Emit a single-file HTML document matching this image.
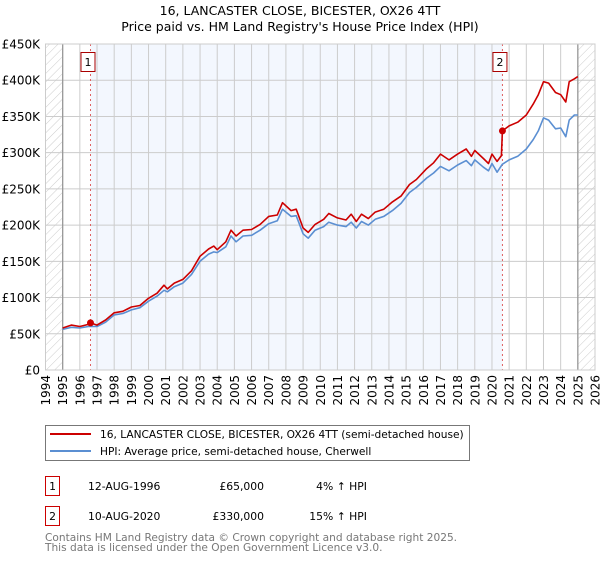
<!DOCTYPE html>
<html><head><meta charset="utf-8"><style>
body{margin:0;background:#fff;width:600px;height:560px;overflow:hidden;font-family:"DejaVu Sans","Liberation Sans",sans-serif}
svg text{font-family:"DejaVu Sans","Liberation Sans",sans-serif}
</style></head><body>
<svg id="chart" width="600" height="560" viewBox="0 0 600 560">
<defs>
<pattern id="hatch" width="6" height="6" patternUnits="userSpaceOnUse" patternTransform="rotate(45)">
<line x1="0" y1="0" x2="0" y2="6" stroke="#ccc" stroke-width="1"/></pattern>
</defs>
<text x="300" y="15" text-anchor="middle" font-size="12.5" fill="#000">16, LANCASTER CLOSE, BICESTER, OX26 4TT</text>
<text x="300" y="31" text-anchor="middle" font-size="12.5" fill="#000">Price paid vs. HM Land Registry's House Price Index (HPI)</text>
<g id="plot"></g>
<g id="legend">
<rect x="45.5" y="425.5" width="424" height="35" fill="#fff" stroke="#777"/>
<line x1="50" y1="434" x2="91" y2="434" stroke="#cc0000" stroke-width="2"/>
<text x="100" y="438" font-size="10.6">16, LANCASTER CLOSE, BICESTER, OX26 4TT (semi-detached house)</text>
<line x1="50" y1="451" x2="91" y2="451" stroke="#5b8fd2" stroke-width="2"/>
<text x="100" y="455" font-size="10.6">HPI: Average price, semi-detached house, Cherwell</text>
</g>
<g font-size="10.8">
<rect x="45.5" y="476.5" width="14" height="19" fill="#fff" stroke="#cc0000"/>
<text x="52.5" y="490" text-anchor="middle">1</text>
<text x="88" y="490">12-AUG-1996</text>
<text x="264" y="490" text-anchor="end">£65,000</text>
<text x="367" y="490" text-anchor="end">4% ↑ HPI</text>
<rect x="45.5" y="506.5" width="14" height="19" fill="#fff" stroke="#cc0000"/>
<text x="52.5" y="520" text-anchor="middle">2</text>
<text x="88" y="520">10-AUG-2020</text>
<text x="264" y="520" text-anchor="end">£330,000</text>
<text x="367" y="520" text-anchor="end">15% ↑ HPI</text>
</g>
<text x="45" y="541" font-size="10.6" fill="#777">Contains HM Land Registry data © Crown copyright and database right 2025.</text>
<text x="45" y="551" font-size="10.6" fill="#777">This data is licensed under the Open Government Licence v3.0.</text>
</svg>
<script>
const yTicks=[0,50000,100000,150000,200000,250000,300000,350000,400000,450000];
const yTickLabels=["£0","£50K","£100K","£150K","£200K","£250K","£300K","£350K","£400K","£450K"];
const xYears=[1994,1995,1996,1997,1998,1999,2000,2001,2002,2003,2004,2005,2006,2007,2008,2009,2010,2011,2012,2013,2014,2015,2016,2017,2018,2019,2020,2021,2022,2023,2024,2025,2026];
const hpiTimes=[1995.0,1995.5,1996.0,1996.5,1997.0,1997.5,1998.0,1998.5,1999.0,1999.5,2000.0,2000.5,2000.9,2001.1,2001.5,2002.0,2002.5,2003.0,2003.5,2003.8,2004.0,2004.5,2004.8,2005.1,2005.5,2006.0,2006.5,2007.0,2007.5,2007.8,2008.3,2008.6,2009.0,2009.3,2009.7,2010.2,2010.5,2011.0,2011.5,2011.8,2012.1,2012.4,2012.8,2013.2,2013.7,2014.2,2014.7,2015.2,2015.6,2016.2,2016.6,2017.0,2017.5,2018.0,2018.5,2018.8,2019.0,2019.5,2019.8,2020.0,2020.3,2020.6,2021.0,2021.5,2022.0,2022.4,2022.7,2023.0,2023.3,2023.7,2024.0,2024.3,2024.5,2024.8,2025.0];
const hpiValues=[56,59,58,60,60,66,76,78,83,86,95,102,110,108,115,120,132,150,160,163,162,170,185,177,185,186,193,202,206,222,212,213,188,182,193,198,204,200,198,204,196,205,200,208,212,220,230,245,252,265,272,281,275,283,289,282,290,280,275,285,273,284,290,295,305,318,330,348,345,333,334,322,345,352,352];
const propTimes=[1995.0,1995.5,1996.0,1996.5,1996.62,1997.0,1997.5,1998.0,1998.5,1999.0,1999.5,2000.0,2000.5,2000.9,2001.1,2001.5,2002.0,2002.5,2003.0,2003.5,2003.8,2004.0,2004.5,2004.8,2005.1,2005.5,2006.0,2006.5,2007.0,2007.5,2007.8,2008.3,2008.6,2009.0,2009.3,2009.7,2010.2,2010.5,2011.0,2011.5,2011.8,2012.1,2012.4,2012.8,2013.2,2013.7,2014.2,2014.7,2015.2,2015.6,2016.2,2016.6,2017.0,2017.5,2018.0,2018.5,2018.8,2019.0,2019.5,2019.8,2020.0,2020.3,2020.55,2020.61,2021.0,2021.5,2022.0,2022.4,2022.7,2023.0,2023.3,2023.7,2024.0,2024.3,2024.5,2024.8,2025.0];
const propValues=[58,62,60,63,65,62,69,79,81,87,89,99,106,117,112,120,125,137,157,167,171,166,177,193,185,193,194,201,212,214,231,220,222,196,190,201,208,216,210,207,215,205,215,209,218,222,232,240,256,263,278,286,298,290,298,305,295,303,292,285,298,288,296,330,337,342,352,367,380,398,396,383,380,370,398,402,405];
const saleTimes=[1996.62,2020.61];
const salePrices=[65000,330000];
const saleLabels=["1","2"];

const NS="http://www.w3.org/2000/svg";
const L=45.5,R=595,T=44,B=370;
const X0=1994,X1=2026,YMAX=450000;
const sx=t=>L+(t-X0)/(X1-X0)*(R-L);
const sy=v=>B-v/YMAX*(B-T);
const plot=document.getElementById('plot');
function mk(tag,attrs,parent){const e=document.createElementNS(NS,tag);for(const k in attrs)e.setAttribute(k,attrs[k]);(parent||plot).appendChild(e);return e;}

let e;
e=mk('rect',{x:L,y:T,width:R-L,height:B-T,fill:'#fff'});


e=mk('rect',{x:sx(saleTimes[0]),y:T,width:sx(saleTimes[1])-sx(saleTimes[0]),height:B-T,fill:'#f3f7fe'});


e=mk('rect',{x:L,y:T,width:sx(1995)-L,height:B-T,fill:'url(#hatch)'});


e=mk('rect',{x:sx(2025),y:T,width:R-sx(2025),height:B-T,fill:'url(#hatch)'});



xYears.forEach(y=>{
  e=mk('line',{x1:sx(y),x2:sx(y),y1:T,y2:B,stroke:'#cccccc','stroke-width':1});
  
  
  const tx=sx(y)+4.5;
  e=mk('text',{x:0,y:0,'font-size':12,'text-anchor':'end',transform:`translate(${tx},375) rotate(-90)`});
  e.textContent=y;
  
  
});
yTicks.forEach((v,i)=>{
  e=mk('line',{x1:L,x2:R,y1:sy(v),y2:sy(v),stroke:'#cccccc','stroke-width':1});
  
  
  e=mk('text',{x:40,y:sy(v)+4.5,'font-size':12,'text-anchor':'end'});
  e.textContent=yTickLabels[i];
  
  
});
[1995,2025].forEach(y=>{
  e=mk('line',{x1:sx(y),x2:sx(y),y1:T,y2:B,stroke:'#999','stroke-width':1.3});
  
  
});
saleTimes.forEach((t,i)=>{
  e=mk('line',{x1:sx(t),x2:sx(t),y1:T,y2:B,stroke:'#e06060','stroke-width':1,'stroke-dasharray':'2,3'});
  
  
});
function path(ts,vs){return ts.map((t,i)=>(i?'L':'M')+sx(t).toFixed(1)+','+sy(vs[i]*1000).toFixed(1)).join('');}
e=mk('path',{d:path(hpiTimes,hpiValues),fill:'none',stroke:'#5b8fd2','stroke-width':1.6,'stroke-linejoin':'round'});


e=mk('path',{d:path(propTimes,propValues),fill:'none',stroke:'#cc0000','stroke-width':1.6,'stroke-linejoin':'round'});


saleTimes.forEach((t,i)=>{
  e=mk('circle',{cx:sx(t),cy:sy(salePrices[i]),r:3.5,fill:'#cc0000'});
  
  
  const bx=sx(t)-10;
  e=mk('rect',{x:bx+0.5,y:52.5,width:14,height:19,fill:'#fff',stroke:'#aa0000'});
  
  
  e=mk('text',{x:bx+7.5,y:66,'font-size':11,'text-anchor':'middle'});
  e.textContent=saleLabels[i];
  
  
});
e=mk('rect',{x:L,y:T,width:R-L,height:B-T,fill:'none',stroke:'#cccccc'});


</script>
</body></html>
